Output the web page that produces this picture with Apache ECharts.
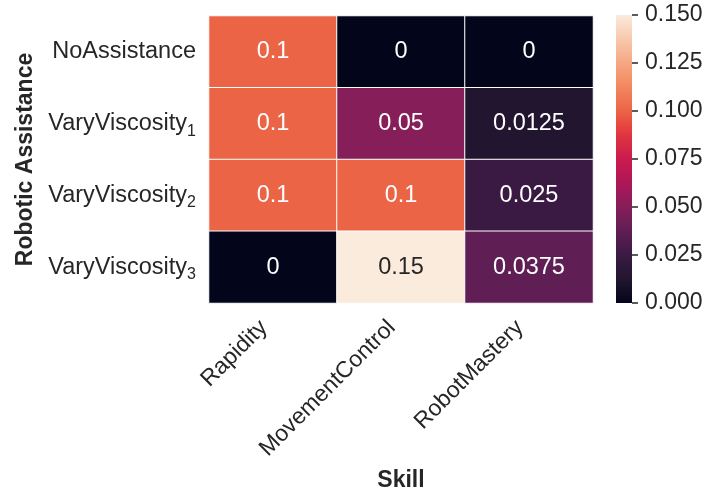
<!DOCTYPE html>
<html>
<head>
<meta charset="utf-8">
<script src="https://cdn.jsdelivr.net/npm/echarts@6/dist/echarts.min.js"></script>
<style>
  html, body { margin: 0; padding: 0; background: #fff; }
  #chart { width: 707px; height: 493px; }
</style>
</head>
<body>
<div id="chart"></div>
<script>
// columns and rows of the heatmap
const skills = ['Rapidity', 'MovementControl', 'RobotMastery']
const assistances = ['NoAssistance', 'VaryViscosity_1', 'VaryViscosity_2', 'VaryViscosity_3']

// one array per row, in the order of skills
const noAssistance = [0.1, 0, 0]
const varyViscosity1 = [0.1, 0.05, 0.0125]
const varyViscosity2 = [0.1, 0.1, 0.025]
const varyViscosity3 = [0, 0.15, 0.0375]
const rows = [noAssistance, varyViscosity1, varyViscosity2, varyViscosity3]

// colour bar scale
const scaleMin = 0
const scaleMax = 0.15
const scaleStep = 0.025

// seaborn "rocket" colormap, sampled
const rocket = ['#03051a', '#221530', '#3a1a43', '#5f1e54', '#861e5a', '#ad1759',
  '#cb1b4f', '#e2343f', '#eb6446', '#f2875d', '#f5a783', '#f7c9ad', '#faebdd']

const textColor = '#262626'
const font = 'Liberation Sans, Arial, Helvetica, sans-serif'

let data = []
rows.forEach((row, y) => {
  row.forEach((v, x) => {
    data.push({
      value: [x, y, v],
      label: {color: v > 0.12 ? textColor : '#ffffff'}
    })
  })
})

// gradient for the colour bar, bottom (min) to top (max)
const barGradient = new echarts.graphic.LinearGradient(0, 1, 0, 0,
  rocket.map((c, i) => ({offset: i / (rocket.length - 1), color: c})))

const chart = echarts.init(document.getElementById('chart'))
chart.setOption({
  animation: false,
  textStyle: {fontFamily: font},
  grid: [
    {left: 209, top: 16, width: 384, height: 287, outerBoundsMode: 'none'},
    {left: 616, top: 15, width: 16, height: 288, outerBoundsMode: 'none'}
  ],
  xAxis: [
    {
      type: 'category',
      data: skills,
      gridIndex: 0,
      axisLine: {show: false},
      axisTick: {show: false},
      axisLabel: {
        rotate: 45,
        fontSize: 23,
        color: textColor,
        margin: 12,
        padding: [0, 13, 0, 0],
        fontFamily: font
      },
      name: 'Skill',
      nameLocation: 'middle',
      nameGap: 166,
      nameTextStyle: {fontSize: 23, fontWeight: 'bold', color: textColor, fontFamily: font}
    },
    {
      type: 'category',
      data: [''],
      gridIndex: 1,
      show: false
    }
  ],
  yAxis: [
    {
      type: 'category',
      data: assistances,
      gridIndex: 0,
      inverse: true,
      axisLine: {show: false},
      axisTick: {show: false},
      axisLabel: {
        fontSize: 23.5,
        color: textColor,
        margin: 13,
        fontFamily: font,
        formatter: function (val) {
          let parts = val.split('_')
          if (parts.length < 2) return '{m|' + val + '}'
          return '{m|' + parts[0] + '}{s|' + parts[1] + '}'
        },
        rich: {
          m: {fontSize: 23.5, color: textColor, fontFamily: font},
          s: {fontSize: 16, color: textColor, fontFamily: font, padding: [15, 0, 0, 0]}
        }
      },
      name: 'Robotic Assistance',
      nameLocation: 'middle',
      nameGap: 172,
      nameTextStyle: {fontSize: 23, fontWeight: 'bold', color: textColor, fontFamily: font}
    },
    {
      type: 'value',
      gridIndex: 1,
      position: 'right',
      min: scaleMin,
      max: scaleMax,
      interval: scaleStep,
      axisLine: {show: false},
      splitLine: {show: false},
      axisTick: {show: true, length: 6, lineStyle: {color: textColor, width: 1.5}},
      axisLabel: {
        fontSize: 23,
        color: textColor,
        margin: 13,
        fontFamily: font,
        formatter: v => v.toFixed(3)
      }
    }
  ],
  visualMap: {
    type: 'continuous',
    show: false,
    min: scaleMin,
    max: scaleMax,
    seriesIndex: 0,
    inRange: {color: rocket}
  },
  series: [
    {
      type: 'heatmap',
      xAxisIndex: 0,
      yAxisIndex: 0,
      data: data,
      itemStyle: {borderColor: '#ffffff', borderWidth: 1},
      label: {
        show: true,
        fontSize: 23.5,
        fontFamily: font,
        formatter: p => String(p.value[2])
      },
      emphasis: {disabled: true}
    },
    {
      type: 'bar',
      xAxisIndex: 1,
      yAxisIndex: 1,
      data: [scaleMax],
      barWidth: '100%',
      silent: true,
      itemStyle: {color: barGradient}
    }
  ]
})
</script>
</body>
</html>
